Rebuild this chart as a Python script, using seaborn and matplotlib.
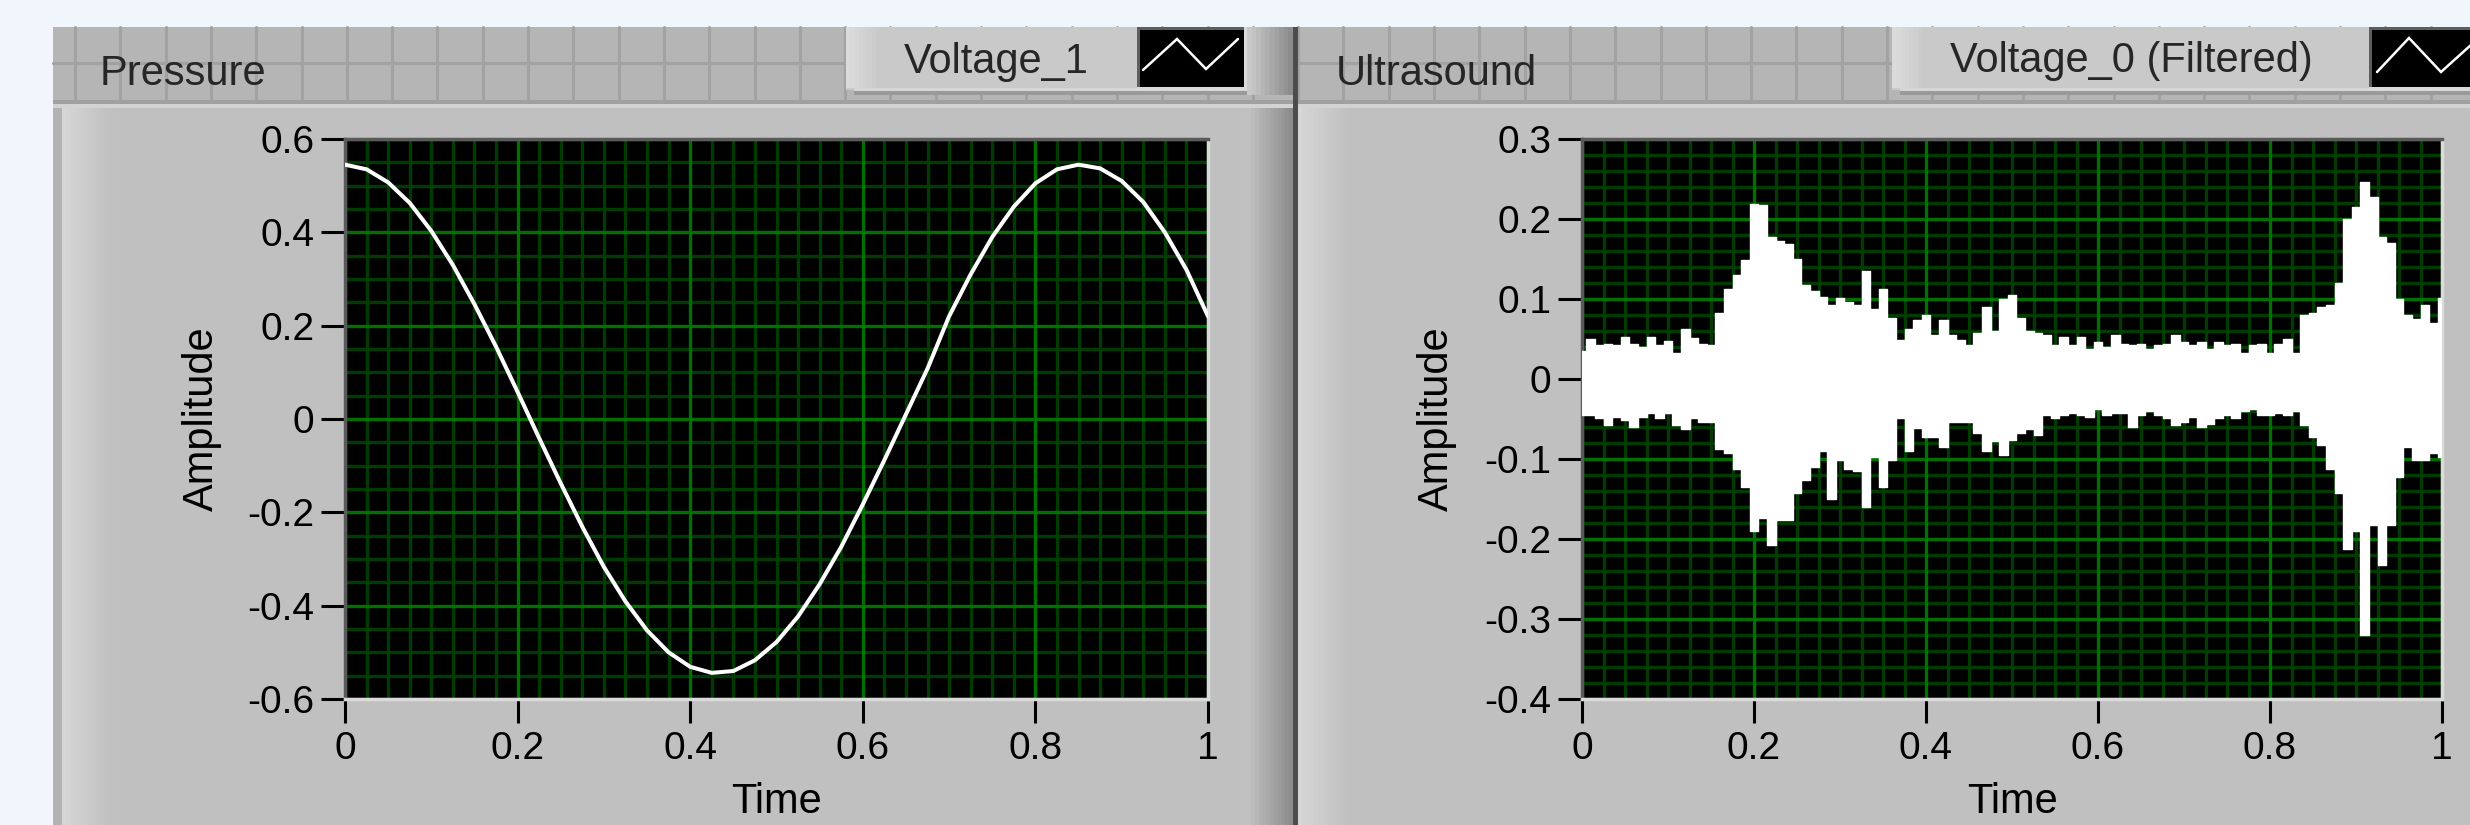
import numpy as np
import pandas as pd
import seaborn as sns
import matplotlib.pyplot as plt
from matplotlib.patches import Rectangle
from matplotlib.lines import Line2D

# Pressure graph, plot "Voltage_1" (one reading every 0.025 s)
pressure_v = [0.545, 0.535, 0.507, 0.463, 0.403, 0.330, 0.246, 0.155, 0.058, -0.041,
              -0.138, -0.231, -0.317, -0.391, -0.453, -0.500, -0.531, -0.544, -0.540, -0.517,
              -0.478, -0.423, -0.354, -0.274, -0.183, -0.088, 0.010, 0.108, 0.220, 0.310,
              0.390, 0.455, 0.505, 0.535, 0.545, 0.537, 0.510, 0.465, 0.400, 0.320, 0.220]

# Ultrasound graph, plot "Voltage_0 (Filtered)": upper / lower envelope every 0.01 s
ultra_upper = [0.035, 0.050, 0.042, 0.044, 0.042, 0.053, 0.044, 0.040, 0.053, 0.042,
               0.048, 0.033, 0.062, 0.051, 0.044, 0.042, 0.083, 0.112, 0.130, 0.149,
               0.219, 0.217, 0.178, 0.173, 0.169, 0.150, 0.117, 0.110, 0.103, 0.092,
               0.101, 0.096, 0.092, 0.135, 0.087, 0.112, 0.076, 0.049, 0.062, 0.074,
               0.080, 0.055, 0.074, 0.055, 0.049, 0.042, 0.058, 0.090, 0.060, 0.100,
               0.105, 0.076, 0.060, 0.058, 0.055, 0.042, 0.053, 0.042, 0.053, 0.037,
               0.046, 0.040, 0.055, 0.044, 0.042, 0.044, 0.037, 0.042, 0.044, 0.055,
               0.046, 0.042, 0.046, 0.037, 0.046, 0.042, 0.044, 0.033, 0.042, 0.044,
               0.033, 0.044, 0.050, 0.033, 0.080, 0.083, 0.090, 0.092, 0.120, 0.200,
               0.215, 0.246, 0.228, 0.178, 0.170, 0.100, 0.080, 0.075, 0.092, 0.070, 0.101]
ultra_lower = [-0.045, -0.045, -0.049, -0.058, -0.047, -0.051, -0.060, -0.047, -0.042, -0.049,
               -0.042, -0.058, -0.062, -0.049, -0.054, -0.054, -0.088, -0.092, -0.113, -0.135,
               -0.190, -0.174, -0.208, -0.176, -0.176, -0.142, -0.126, -0.110, -0.090, -0.150,
               -0.101, -0.113, -0.115, -0.160, -0.097, -0.135, -0.101, -0.049, -0.090, -0.061,
               -0.072, -0.072, -0.085, -0.054, -0.054, -0.054, -0.067, -0.090, -0.077, -0.095,
               -0.076, -0.067, -0.063, -0.070, -0.045, -0.049, -0.045, -0.042, -0.045, -0.047,
               -0.038, -0.045, -0.042, -0.042, -0.060, -0.045, -0.040, -0.045, -0.049, -0.058,
               -0.054, -0.047, -0.060, -0.056, -0.049, -0.045, -0.049, -0.040, -0.038, -0.045,
               -0.045, -0.042, -0.045, -0.040, -0.058, -0.072, -0.083, -0.113, -0.142, -0.213,
               -0.190, -0.320, -0.183, -0.233, -0.183, -0.122, -0.085, -0.101, -0.101, -0.092, -0.097]

time_ticks = [0, 0.2, 0.4, 0.6, 0.8, 1]
time_labels = ["0", "0.2", "0.4", "0.6", "0.8", "1"]
press_ticks = [0.6, 0.4, 0.2, 0, -0.2, -0.4, -0.6]
press_labels = ["0.6", "0.4", "0.2", "0", "-0.2", "-0.4", "-0.6"]
ultra_ticks = [0.3, 0.2, 0.1, 0, -0.1, -0.2, -0.3, -0.4]
ultra_labels = ["0.3", "0.2", "0.1", "0", "-0.1", "-0.2", "-0.3", "-0.4"]

press_df = pd.DataFrame({"Time": np.linspace(0, 1, len(pressure_v)), "Amplitude": pressure_v})
ultra_df = pd.DataFrame({"Time": np.linspace(0, 1, len(ultra_upper)),
                         "upper": ultra_upper, "lower": ultra_lower})

sns.set_theme(style="ticks")
plt.rcParams["font.family"] = ["Liberation Sans", "DejaVu Sans"]

W, H = 2470, 825
fig = plt.figure(figsize=(W / 100, H / 100), dpi=100)
fig.patch.set_facecolor("#F1F6FD")


def box(x0, y0, x1, y1, color, z=-10):
    fig.add_artist(Rectangle((x0 / W, 1 - y1 / H), (x1 - x0) / W, (y1 - y0) / H,
                             transform=fig.transFigure, facecolor=color,
                             edgecolor="none", zorder=z))


def line(xs, ys, color, lw, z=-9):
    fig.add_artist(Line2D([x / W for x in xs], [1 - y / H for y in ys],
                          transform=fig.transFigure, color=color, lw=lw, zorder=z,
                          solid_joinstyle="miter"))


def gradient(x0, x1, y0, y1, c0, c1, n=12, z=-8):
    a, b = np.array(c0), np.array(c1)
    step = (x1 - x0) / n
    for i in range(n):
        c = a + (b - a) * i / (n - 1)
        box(x0 + i * step, y0, x0 + (i + 1) * step + 0.5, y1, tuple(c), z)


# front panel: header strip with its grid pattern
box(53, 27, W, 104, "#B5B5B5", -10)
for gx in np.arange(75, W, 45.3):
    line([gx, gx], [27, 101], "#A2A2A2", 2.2, -9.5)
line([53, W], [63, 63], "#A2A2A2", 2.2, -9.5)
box(53, 100, W, 104, "#A0A0A0", -9)

# graph panels
box(53, 104, 1293, H, "#C0C0C0", -9)
box(1298, 104, W, H, "#C0C0C0", -9)
box(53, 104, W, 108, "#D3D3D3", -8)
box(53, 108, 62, H, "#B2B2B2", -8)
gradient(62, 112, 108, H, (0.84, 0.84, 0.84), (0.755, 0.755, 0.755))
gradient(1247, 1293, 108, H, (0.755, 0.755, 0.755), (0.55, 0.55, 0.55))
gradient(1298, 1345, 108, H, (0.84, 0.84, 0.84), (0.76, 0.76, 0.76))
box(1293, 27, 1298, H, "#4C4C4C", -6)

# plot legends
for lx0 in (846, 1892):
    lx1 = W if lx0 > 1500 else 1293
    box(lx0, 27, lx1, 90, "#C9C9C9", -7.5)
    box(lx0 + 8, 88, lx1, 91, "#D6D6D6", -7)
    box(lx0 + 8, 91, lx1, 95, "#9A9A9A", -7)
    gradient(lx0, lx0 + 34, 27, 88, (0.86, 0.86, 0.86), (0.79, 0.79, 0.79), 8, -7)
gradient(1247, 1293, 27, 95, (0.79, 0.79, 0.79), (0.55, 0.55, 0.55), 10, -7)

for bx0, bx1, zz in ((1140, 1244, [(1143, 70), (1177, 39), (1206, 69), (1238, 39)]),
                     (2372, 2475, [(2377, 72), (2409, 38), (2441, 72), (2472, 44)])):
    box(bx0 - 3, 27, bx1 + 3, 90, "#DADADA", -6)
    box(bx0 - 3, 27, bx1, 87, "#5E5E5E", -5.5)
    box(bx0, 30, bx1, 87, "black", -5)
    line([p[0] for p in zz], [p[1] for p in zz], "white", 1.8, -4)

fig.text(100 / W, 1 - 85 / H, "Pressure", fontsize=30, va="baseline", ha="left")
fig.text(904 / W, 1 - 73 / H, "Voltage_1", fontsize=30, va="baseline", ha="left")
fig.text(1336 / W, 1 - 85 / H, "Ultrasound", fontsize=30, va="baseline", ha="left")
fig.text(1950 / W, 1 - 72 / H, "Voltage_0 (Filtered)", fontsize=30, va="baseline", ha="left")

# the two waveform graphs
ax1 = fig.add_axes([345 / W, 1 - 699 / H, (1208 - 345) / W, 560 / H])
ax2 = fig.add_axes([1582 / W, 1 - 699 / H, (2442 - 1582) / W, 560 / H])

sns.lineplot(data=press_df, x="Time", y="Amplitude", ax=ax1, color="white",
             linewidth=2.9, zorder=3)
ax2.fill_between(ultra_df["Time"], ultra_df["lower"], ultra_df["upper"], step="mid",
                 color="white", linewidth=0, zorder=3)
sns.lineplot(data=ultra_df, x="Time", y="upper", ax=ax2, color="white", linewidth=1,
             drawstyle="steps-mid", zorder=3)
sns.lineplot(data=ultra_df, x="Time", y="lower", ax=ax2, color="white", linewidth=1,
             drawstyle="steps-mid", zorder=3)

for ax, yt, yl, ylim, ystep in ((ax1, press_ticks, press_labels, (-0.6, 0.6), 0.05),
                                (ax2, ultra_ticks, ultra_labels, (-0.4, 0.3), 0.02)):
    ax.set_facecolor("black")
    ax.set_xlim(0, 1)
    ax.set_ylim(*ylim)
    ax.set_xticks(time_ticks)
    ax.set_xticklabels(time_labels)
    ax.set_yticks(yt)
    ax.set_yticklabels(yl)
    ax.set_xticks(np.arange(0, 1.0001, 0.025), minor=True)
    ax.set_yticks(np.arange(ylim[0], ylim[1] + 1e-6, ystep), minor=True)
    ax.set_axisbelow(True)
    ax.grid(False, which="major")
    ax.grid(True, which="minor", color="#003C00", linewidth=2.4)
    for v in time_ticks:
        ax.axvline(v, color="#007000", linewidth=2.4, zorder=0.8)
    for v in yt:
        ax.axhline(v, color="#007000", linewidth=2.4, zorder=0.8)
    ax.tick_params(which="minor", length=0)
    ax.tick_params(which="major", direction="out", length=17, width=2.2, color="black",
                   labelsize=28, labelcolor="black")
    ax.tick_params(axis="y", pad=5)
    ax.tick_params(axis="x", pad=6)
    for s in ("top", "left"):
        ax.spines[s].set_color("#5A5A5A")
        ax.spines[s].set_linewidth(2.5)
    for s in ("bottom", "right"):
        ax.spines[s].set_color("#DADADA")
        ax.spines[s].set_linewidth(2.5)
    ax.set_xlabel("Time", fontsize=30, color="black")
    ax.set_ylabel("Amplitude", fontsize=30, color="black")
    ax.xaxis.set_label_coords(0.5, -0.148)

ax1.yaxis.set_label_coords(-0.1425, 0.5)
ax2.yaxis.set_label_coords(-0.145, 0.5)

fig.savefig("out.png", dpi=100, facecolor=fig.get_facecolor())
